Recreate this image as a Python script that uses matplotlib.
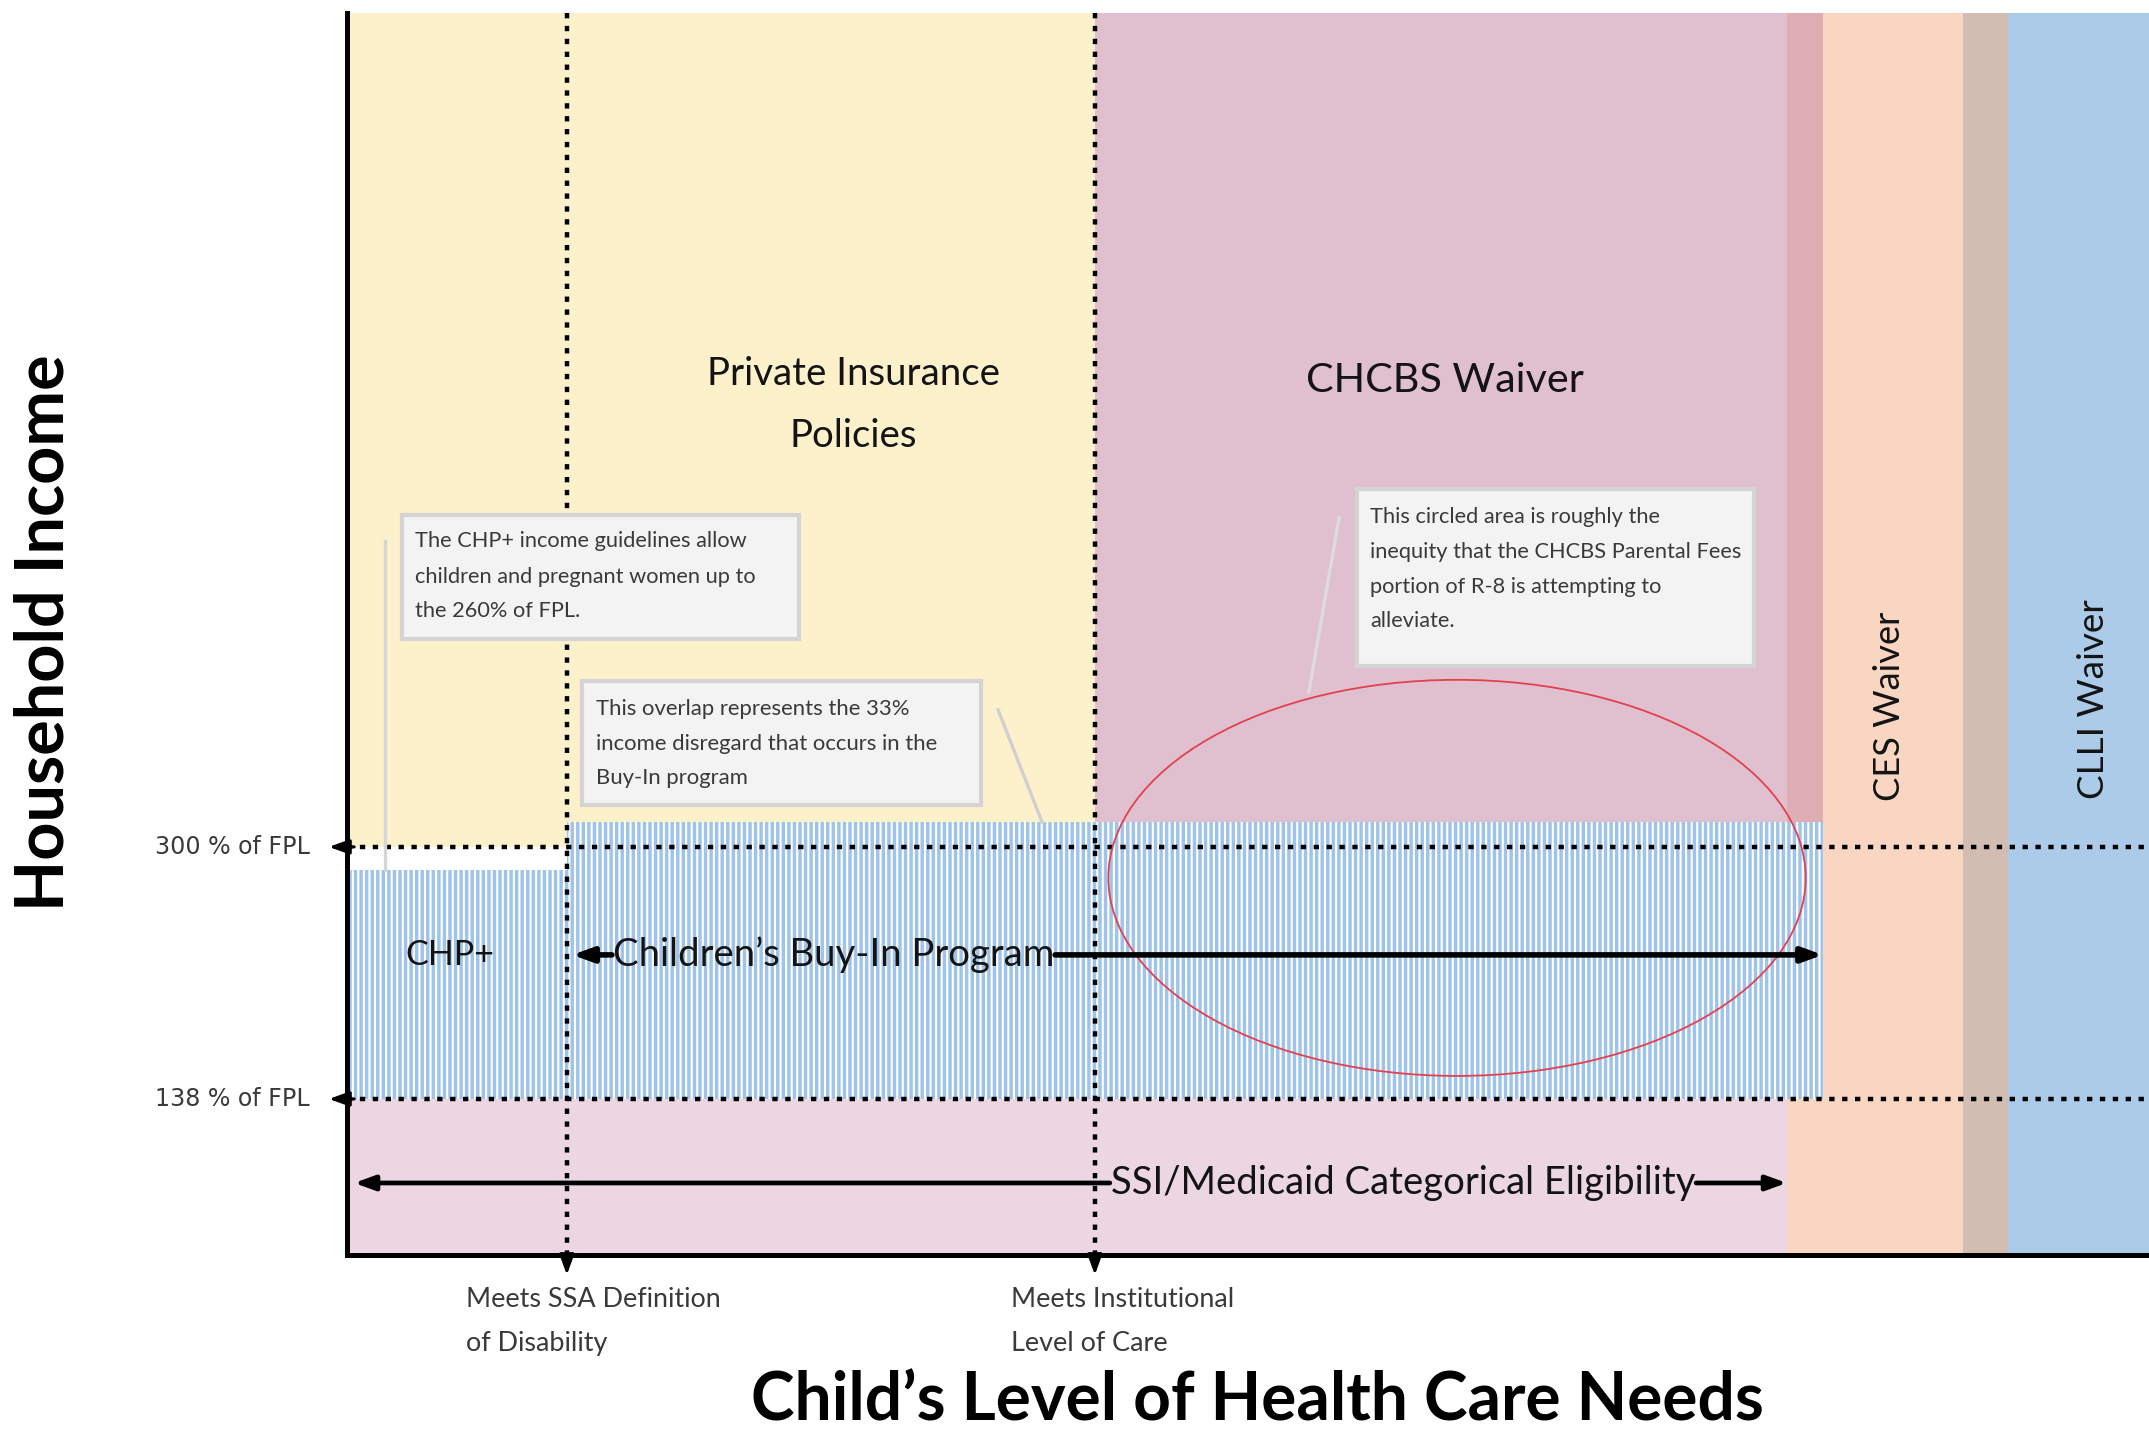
import matplotlib
matplotlib.use("Agg")
import matplotlib.pyplot as plt
from matplotlib.patches import Rectangle, Ellipse

plt.rcParams["hatch.linewidth"] = 1.5
plt.rcParams["font.family"] = ["Lato", "DejaVu Sans"]

# ---------------- data ----------------
x_limits = [0.0, 100.0]          # child's level of health care needs (arbitrary scale)
y_limits = [37.7, 836.0]         # household income, % of FPL

fpl_thresholds = [300, 138]
fpl_labels = ["300 % of FPL", "138 % of FPL"]

need_thresholds = [12.2, 41.5]
need_labels = [["Meets SSA Definition", "of Disability"],
               ["Meets Institutional", "Level of Care"]]

band_names = ["Private Insurance", "SSI/Medicaid", "CES Waiver", "CHCBS Waiver",
              "CHCBS margin", "Transition", "CLLI Waiver"]
band_x0 = [0.0, 0.0, 79.9, 41.5, 79.9, 89.7, 92.2]
band_x1 = [41.5, 79.9, 89.7, 79.9, 81.9, 92.2, 100.0]
band_y0 = [300, 37.7, 37.7, 138, 138, 37.7, 37.7]
band_y1 = [836, 138, 836, 836, 836, 836, 836]

program_names = ["CHP+", "Children’s Buy-In Program"]
program_x0 = [0.0, 12.2]
program_x1 = [12.2, 81.9]
program_y0 = [138, 138]
program_y1 = [285, 316]

buyin_arrow_span = [12.5, 81.9]
buyin_arrow_level = 230.6
ssi_arrow_span = [0.4, 79.9]
ssi_arrow_level = 84.0

inequity_center = (61.6, 280.1)
inequity_size = (38.7, 254.6)

callout_a = ["The CHP+ income guidelines allow",
             "children and pregnant women up to",
             "the 260% of FPL."]
callout_b = ["This overlap represents the 33%",
             "income disregard that occurs in the",
             "Buy-In program"]
callout_c = ["This circled area is roughly the",
             "inequity that the CHCBS Parental Fees",
             "portion of R-8 is attempting to",
             "alleviate."]

# ---------------- styles ----------------
band_colors = ["#fdf1cb", "#ebd6e2", "#f9d6c2", "#e0bfcf", "#dfadb4", "#d2bdb3", "#abcbe9"]
program_color = "#a0c3e9"
dot_style = (0, (1.2, 1.7))
dot_lw = 3.2
txt_dark = "#141414"
txt_grey = "#3a3a3a"

fig = plt.figure(figsize=(21.49, 14.33), dpi=100)
ax = fig.add_axes([347 / 2149, 178 / 1433, 1802 / 2149, 1242 / 1433])
ax.set_xlim(*x_limits)
ax.set_ylim(*y_limits)
ax.set_xticks([])
ax.set_yticks([])
for s in ["top", "right"]:
    ax.spines[s].set_visible(False)
for s in ["left", "bottom"]:
    ax.spines[s].set_linewidth(3.6)
    ax.spines[s].set_zorder(10)

# background bands
for x0, x1, y0, y1, c in zip(band_x0, band_x1, band_y0, band_y1, band_colors):
    ax.add_patch(Rectangle((x0, y0), x1 - x0, y1 - y0, facecolor=c,
                           edgecolor="none", zorder=1))

# hatched eligibility programs
for x0, x1, y0, y1 in zip(program_x0, program_x1, program_y0, program_y1):
    ax.add_patch(Rectangle((x0, y0), x1 - x0, y1 - y0, facecolor=program_color,
                           edgecolor="white", hatch="|||", linewidth=0, zorder=2))

# inequity ellipse
ax.add_patch(Ellipse(inequity_center, inequity_size[0], inequity_size[1], fill=False,
                     edgecolor="#e2414d", linewidth=1.3, zorder=6))

arrow_kw = dict(arrowstyle="-|>,head_length=0.55,head_width=0.2", color="k",
                lw=2.2, shrinkA=0, shrinkB=0, mutation_scale=22)

# FPL dotted lines
texts_fpl = []
for y, lab in zip(fpl_thresholds, fpl_labels):
    ax.plot(x_limits, [y, y], color="k", lw=dot_lw, ls=dot_style,
            dash_capstyle="butt", zorder=5, clip_on=False)
    ax.annotate("", xy=(-1.0, y), xytext=(0.4, y), arrowprops=arrow_kw,
                annotation_clip=False, zorder=6)
    texts_fpl.append(ax.text(-2.05, y, lab, ha="right", va="center",
                             family="DejaVu Sans", color=txt_grey, fontsize=14,
                             clip_on=False))

# need thresholds (vertical dotted lines)
texts_need = []
for x, lab in zip(need_thresholds, need_labels):
    ax.plot([x, x], [y_limits[1], 32], color="k", lw=dot_lw, ls=dot_style,
            dash_capstyle="butt", zorder=5, clip_on=False)
    ax.annotate("", xy=(x, 24.9), xytext=(x, 36), arrowprops=arrow_kw,
                annotation_clip=False, zorder=6)
    tx = x - 5.6 if x < 20 else x - 4.65
    texts_need.append(ax.text(tx, 9.4, lab[0], ha="left", va="center",
                              color=txt_grey, fontsize=16, clip_on=False))
    texts_need.append(ax.text(tx, -19.5, lab[1], ha="left", va="center",
                              color=txt_grey, fontsize=16, clip_on=False))

# region labels
t_priv1 = ax.text(28.1, 604, "Private Insurance", ha="center", va="center",
                  color=txt_dark, fontsize=24, zorder=7)
t_priv2 = ax.text(28.1, 564, "Policies", ha="center", va="center",
                  color=txt_dark, fontsize=24, zorder=7)
t_chcbs = ax.text(60.9, 600, "CHCBS Waiver", ha="center", va="center",
                  color=txt_dark, fontsize=26, zorder=7)
t_ces = ax.text(85.6, 390.6, "CES Waiver", ha="center", va="center", rotation=90,
                color=txt_dark, fontsize=22, zorder=7)
t_clli = ax.text(96.9, 395, "CLLI Waiver", ha="center", va="center", rotation=90,
                 color=txt_dark, fontsize=22, zorder=7)
t_chp = ax.text(5.7, buyin_arrow_level, program_names[0], ha="center", va="center",
                color=txt_dark, fontsize=24, zorder=7)
t_buy = ax.text(27.0, buyin_arrow_level, program_names[1], ha="center", va="center",
                color=txt_dark, fontsize=24, zorder=7)
t_ssi = ax.text(58.6, ssi_arrow_level, "SSI/Medicaid Categorical Eligibility",
                ha="center", va="center", color=txt_dark, fontsize=24, zorder=7)

# axis titles
t_ylab = ax.text(-0.1676, 0.5008, "Household Income", transform=ax.transAxes,
                 rotation=90, ha="center", va="center", fontweight="bold",
                 color="black", fontsize=44, clip_on=False)
t_xlab = ax.text(0.505, -0.1176, "Child’s Level of Health Care Needs",
                 transform=ax.transAxes, ha="center", va="center",
                 fontweight="bold", color="black", fontsize=40, clip_on=False)

# callouts
def callout(x0, x1, y0, y1, tx, ys, lines):
    ax.add_patch(Rectangle((x0, y0), x1 - x0, y1 - y0, facecolor="#f3f3f3",
                           edgecolor="#d4d4d4", linewidth=3, zorder=8))
    return [ax.text(tx, y, ln, ha="left", va="center", color=txt_grey,
                    fontsize=14, zorder=9) for y, ln in zip(ys, lines)]

ax.plot([2.11, 2.11], [496.7, program_y1[0]], color="#d6d6d6", lw=2.4, zorder=7)
ax.plot([36.13, 38.57], [388.1, program_y1[1]], color="#d0d0d0", lw=2.4, zorder=7)
ax.plot([55.05, 53.38], [511.5, 399.6], color="#dcdcdc", lw=2.4, zorder=7)

ca = callout(3.05, 25.08, 433.7, 513.4, 3.77, [496.7, 473.6, 451.7], callout_a)
cb = callout(13.04, 35.18, 327.0, 406.7, 13.82, [388.7, 366.2, 344.4], callout_b)
cc = callout(56.05, 78.08, 416.3, 530.1, 56.77, [512.1, 489.6, 467.1, 445.3], callout_c)

# ---- fit text sizes to reference extents ----
renderer = fig.canvas.get_renderer()

def fit(txt, target, vertical=False, others=()):
    bb = txt.get_window_extent(renderer)
    cur = bb.height if vertical else bb.width
    fs = txt.get_fontsize() * target / cur
    txt.set_fontsize(fs)
    for o in others:
        o.set_fontsize(fs)

fit(t_ylab, 557, vertical=True)
fit(t_xlab, 1014)
fit(t_priv1, 293, others=[t_priv2])
fit(t_chcbs, 277)
fit(t_ces, 189, vertical=True)
fit(t_clli, 199, vertical=True)
fit(t_chp, 89)
fit(t_buy, 442)
fit(t_ssi, 585)
fit(texts_fpl[0], 155, others=texts_fpl[1:])
fit(texts_need[0], 256, others=texts_need[1:])
fit(ca[0], 333, others=ca[1:])
fit(cb[0], 314, others=cb[1:])
fit(cc[1], 371, others=[cc[0], cc[2], cc[3]])

# arrows broken around their labels
inv = ax.transData.inverted()
def broken_arrow(txt, span, y, lw):
    bb = txt.get_window_extent(renderer).transformed(inv)
    kw = dict(arrow_kw)
    kw["lw"] = lw
    ax.annotate("", xy=(span[0], y), xytext=(bb.x0 - 0.05, y), arrowprops=kw, zorder=6)
    ax.annotate("", xy=(span[1], y), xytext=(bb.x1 + 0.05, y), arrowprops=kw, zorder=6)

broken_arrow(t_buy, buyin_arrow_span, buyin_arrow_level, 4.0)
broken_arrow(t_ssi, ssi_arrow_span, ssi_arrow_level, 3.4)

fig.savefig("out.png", dpi=100)
